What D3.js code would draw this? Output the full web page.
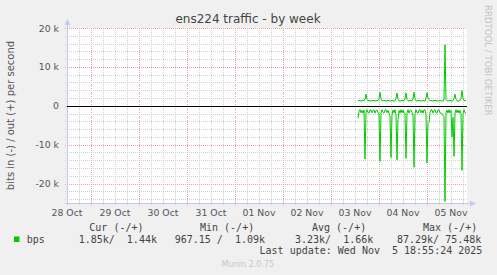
<!DOCTYPE html>
<html lang="en">
<head>
<meta charset="utf-8">
<title>ens224 traffic - by week</title>
<script src="https://d3js.org/d3.v7.min.js"></script>
<style>
  body { margin: 0; background: #f0f0f0; }
  svg { display: block; }
  text { white-space: pre; }
</style>
</head>
<body>
<script>
// SIZE OF THE PICTURE AND OF THE PLOT AREA
var w = 497, h = 275;
var plotL = 67, plotR = 467, plotT = 28, plotB = 203;

// DATA (kbit/s, one value every 30 min from 03 Nov 13:30 UTC)
var dataStart = Date.UTC(2025, 10, 3, 13, 30);
var stepMs = 30 * 60 * 1000;
var outValues = [
  1.4,1.3,1.4,1.2,1.3,1.4,1.3,1.8,3.0,1.6,
  1.3,1.4,1.3,1.2,1.3,1.4,1.3,1.3,1.2,1.4,
  1.3,1.7,3.5,1.8,1.3,1.2,1.4,1.3,1.3,1.2,
  1.4,1.3,1.2,1.3,1.4,1.3,1.2,1.3,1.9,3.3,
  1.7,1.3,1.2,1.3,1.4,1.3,1.3,1.8,3.3,1.6,
  1.3,1.2,1.4,1.3,1.3,1.9,3.5,1.7,1.3,1.2,
  1.3,1.4,1.3,1.2,1.3,1.4,1.3,1.2,1.9,3.3,
  2.0,1.6,1.3,1.4,1.3,1.2,1.3,1.4,1.3,1.3,
  1.2,1.3,1.4,1.3,1.2,1.3,1.5,15.7,1.6,1.3,
  1.2,1.3,1.4,1.3,1.2,1.3,1.8,3.0,1.7,1.3,
  1.2,1.3,1.4,1.9,3.9,1.8,1.4,1.3,1.44
];
var inValues = [
  3.2,1.4,1.0,1.8,1.2,1.9,1.1,13.7,1.8,1.0,
  1.7,1.9,1.1,1.0,1.8,1.3,1.0,1.9,1.2,1.1,
  1.8,2.2,14.3,1.9,1.0,1.7,1.9,1.1,1.0,1.8,
  1.2,1.9,2.7,13.3,2.4,1.1,1.8,1.0,2.3,13.9,
  3.5,1.2,1.9,1.0,1.8,1.1,1.9,2.0,13.5,1.8,
  1.0,1.9,1.2,1.1,1.8,2.5,15.8,2.0,1.0,1.8,
  1.9,1.1,1.0,1.8,1.2,1.9,1.0,1.1,2.2,14.7,
  4.6,4.3,1.8,1.0,1.1,1.9,1.2,1.0,1.8,1.9,
  1.1,1.0,1.8,1.9,2.0,2.4,2.8,24.6,1.8,1.1,
  1.9,1.0,1.8,1.2,8.0,3.0,13.0,1.9,1.0,1.8,
  1.1,1.9,1.2,2.0,16.6,2.1,1.0,1.8,1.85
];

// TICKS AND LEGEND TEXT
var yTicks = [-20000, -10000, 0, 10000, 20000];
var yTickLabels = ["-20 k", "-10 k", "0", "10 k", "20 k"];
var legendHeads = ["Cur (-/+)", "Min (-/+)", "Avg (-/+)", "Max (-/+)"];
var legendVals = ["1.85k/  1.44k", "967.15 /  1.09k", "3.23k/  1.66k", "87.29k/ 75.48k"];
var seriesName = "bps";
var lastUpdate = "Last update: Wed Nov  5 18:55:24 2025";

// SCALES
var x = d3.scaleUtc()
  .domain([Date.UTC(2025, 9, 28, 12), Date.UTC(2025, 10, 5, 20)])
  .range([plotL, plotR]);
var y = d3.scaleLinear()
  .domain([-25000, 20000])
  .range([plotB, plotT]);

var svg = d3.select("body").append("svg")
  .attr("width", w)
  .attr("height", h);

svg.append("rect").attr("width", w).attr("height", h).attr("fill", "#f0f0f0");
svg.append("rect")
  .attr("x", plotL).attr("y", plotT)
  .attr("width", plotR - plotL).attr("height", plotB - plotT)
  .attr("fill", "#ffffff");

var grid = svg.append("g").attr("shape-rendering", "crispEdges");

// minor + major grid
var minorX = d3.utcHour.every(6).range(x.domain()[0], x.domain()[1]);
grid.selectAll(".vmin").data(minorX).enter().append("line")
  .attr("x1", function(d){ return Math.round(x(d)) + 0.5; })
  .attr("x2", function(d){ return Math.round(x(d)) + 0.5; })
  .attr("y1", plotT).attr("y2", plotB + 3)
  .attr("stroke", function(d){ return d.getUTCHours() === 0 ? "#f0a0a0" : "#cfcfcf"; })
  .attr("stroke-dasharray", "1,1");

var minorY = d3.range(-24000, 20001, 2000);
grid.selectAll(".hmin").data(minorY).enter().append("line")
  .attr("x1", plotL - 2).attr("x2", plotR)
  .attr("y1", function(d){ return Math.round(y(d)) + 0.5; })
  .attr("y2", function(d){ return Math.round(y(d)) + 0.5; })
  .attr("stroke", function(d){ return d % 10000 === 0 ? "#f0a0a0" : "#cfcfcf"; })
  .attr("stroke-dasharray", "1,1");

// axes lines with arrows
var axisColor = "#c4cbf0";
svg.append("line")
  .attr("x1", plotL + 0.5).attr("x2", plotL + 0.5)
  .attr("y1", plotB + 2).attr("y2", plotT - 4)
  .attr("stroke", axisColor);
svg.append("path")
  .attr("d", "M" + (plotL - 2.5) + "," + (plotT - 3) + "L" + (plotL + 3.5) + "," + (plotT - 3) + "L" + (plotL + 0.5) + "," + (plotT - 9) + "Z")
  .attr("fill", axisColor);
svg.append("line")
  .attr("x1", plotL - 2).attr("x2", plotR + 4)
  .attr("y1", plotB + 0.5).attr("y2", plotB + 0.5)
  .attr("stroke", axisColor);
svg.append("path")
  .attr("d", "M" + (plotR + 3) + "," + (plotB - 2.5) + "L" + (plotR + 3) + "," + (plotB + 3.5) + "L" + (plotR + 9) + "," + (plotB + 0.5) + "Z")
  .attr("fill", axisColor);

// y tick labels
svg.selectAll(".ylab").data(yTicks).enter().append("text")
  .attr("x", plotL - 8)
  .attr("y", function(d){ return y(d) + 3.5; })
  .attr("text-anchor", "end")
  .attr("font-family", "DejaVu Sans")
  .attr("font-size", "9.3px")
  .attr("fill", "#555")
  .text(function(d, i){ return yTickLabels[i]; });

// x tick labels, one per day, placed at noon
var labelDays = d3.utcDay.range(Date.UTC(2025, 9, 28), Date.UTC(2025, 10, 6))
  .map(function(d){ return new Date(+d + 12 * 3600 * 1000); });
var fmt = d3.utcFormat("%d %b");
svg.selectAll(".xlab").data(labelDays).enter().append("text")
  .attr("x", function(d){ return x(d); })
  .attr("y", plotB + 12.5)
  .attr("text-anchor", "middle")
  .attr("font-family", "DejaVu Sans")
  .attr("font-size", "9.3px")
  .attr("fill", "#555")
  .text(function(d){ return fmt(d); });

// zero line
svg.append("line")
  .attr("x1", plotL).attr("x2", plotR)
  .attr("y1", Math.round(y(0)) + 0.5).attr("y2", Math.round(y(0)) + 0.5)
  .attr("stroke", "#000")
  .attr("stroke-width", 1.2)
  .attr("shape-rendering", "crispEdges");

// series lines
var line = d3.line()
  .x(function(d, i){ return x(dataStart + i * stepMs); })
  .y(function(d){ return y(d); });

svg.append("path")
  .datum(outValues.map(function(v){ return v * 1000; }))
  .attr("d", line)
  .attr("fill", "none")
  .attr("stroke", "#00cc00")
  .attr("stroke-width", 1);
svg.append("path")
  .datum(inValues.map(function(v){ return -v * 1000; }))
  .attr("d", line)
  .attr("fill", "none")
  .attr("stroke", "#00cc00")
  .attr("stroke-width", 1);

// title
svg.append("text")
  .attr("x", 248).attr("y", 23)
  .attr("text-anchor", "middle")
  .attr("font-family", "DejaVu Sans")
  .attr("font-size", "12px")
  .attr("fill", "#444")
  .text("ens224 traffic - by week");

// y axis title
svg.append("text")
  .attr("transform", "translate(14," + ((plotT + plotB) / 2) + ") rotate(-90)")
  .attr("text-anchor", "middle")
  .attr("font-family", "DejaVu Sans")
  .attr("font-size", "10px")
  .attr("fill", "#555")
  .text("bits in (-) / out (+) per second");

// right side watermark
svg.append("text")
  .attr("transform", "translate(485,5) rotate(90)")
  .attr("text-anchor", "start")
  .attr("font-family", "DejaVu Sans")
  .attr("font-size", "8.6px")
  .attr("fill", "#c4c4c4")
  .text("RRDTOOL / TOBI OETIKER");

// legend
var headX = [89.3, 200, 312, 423];
var valX = [78.7, 174.7, 295, 397];
var mono = "DejaVu Sans Mono";
svg.selectAll(".lhead").data(legendHeads).enter().append("text")
  .attr("x", function(d, i){ return headX[i]; })
  .attr("y", 230.5)
  .attr("font-family", mono).attr("font-size", "10px").attr("fill", "#444")
  .text(function(d){ return d; });
svg.selectAll(".lval").data(legendVals).enter().append("text")
  .attr("x", function(d, i){ return valX[i]; })
  .attr("y", 243)
  .attr("font-family", mono).attr("font-size", "10px").attr("fill", "#444")
  .text(function(d){ return d; });
svg.append("rect")
  .attr("x", 14).attr("y", 236.5).attr("width", 5.5).attr("height", 5.5)
  .attr("fill", "#00cc00");
svg.append("text")
  .attr("x", 26.7).attr("y", 243)
  .attr("font-family", mono).attr("font-size", "10px").attr("fill", "#444")
  .text(seriesName);
svg.append("text")
  .attr("x", 482.3).attr("y", 254.3)
  .attr("text-anchor", "end")
  .attr("font-family", mono).attr("font-size", "10px").attr("fill", "#444")
  .text(lastUpdate);
svg.append("text")
  .attr("x", 248).attr("y", 266.7)
  .attr("text-anchor", "middle")
  .attr("font-family", "DejaVu Sans").attr("font-size", "8px").attr("fill", "#c8c8c8")
  .text("Munin 2.0.75");
</script>
</body>
</html>
